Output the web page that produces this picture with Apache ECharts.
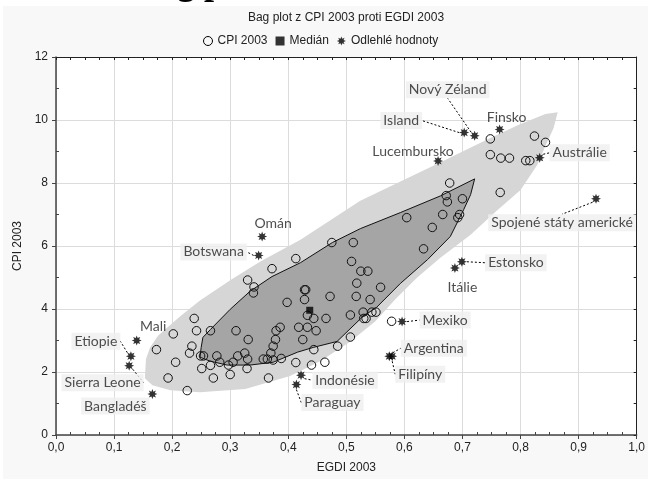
<!DOCTYPE html>
<html><head><meta charset="utf-8">
<script src="https://cdn.jsdelivr.net/npm/echarts@6/dist/echarts.min.js"></script>
<style>html,body{margin:0;padding:0;background:#fff}#c{width:648px;height:479px}</style>
</head><body><div id="c"></div>
<script>
// ---- data ----
const cpiPoints = [
 [0.173,2.71],[0.206,2.31],[0.202,3.21],[0.238,3.70],[0.242,3.31],[0.234,2.82],[0.230,2.60],
 [0.249,2.51],[0.254,2.51],[0.193,1.81],[0.226,1.41],[0.251,2.11],[0.266,2.21],[0.271,1.81],
 [0.277,2.51],[0.282,2.31],[0.266,3.31],[0.297,2.22],[0.305,2.31],[0.300,1.92],[0.313,2.51],
 [0.325,2.60],[0.330,2.41],[0.329,2.11],[0.310,3.31],[0.331,3.03],[0.366,1.81],[0.357,2.41],
 [0.364,2.41],[0.374,2.38],[0.388,2.43],[0.370,2.60],[0.374,2.82],[0.378,3.03],[0.379,3.31],
 [0.386,3.42],[0.413,2.30],[0.440,2.22],[0.463,2.31],[0.444,2.71],[0.485,2.82],[0.507,3.11],
 [0.425,3.03],[0.418,3.42],[0.433,3.42],[0.448,3.31],[0.433,3.80],[0.444,3.70],[0.465,3.70],
 [0.507,3.81],[0.529,3.90],[0.530,3.70],[0.534,3.70],[0.544,3.90],[0.551,3.90],[0.578,3.61],
 [0.398,4.21],[0.428,4.30],[0.428,4.61],[0.430,4.61],[0.472,4.40],[0.517,4.40],[0.541,4.30],
 [0.518,4.82],[0.559,4.69],[0.330,4.92],[0.341,4.70],[0.340,4.51],[0.372,5.28],[0.413,5.60],
 [0.509,5.51],[0.525,5.20],[0.537,5.20],[0.475,6.11],[0.512,6.11],[0.604,6.90],[0.633,5.91],
 [0.648,6.59],[0.666,7.00],[0.695,7.00],[0.692,6.90],[0.672,7.60],[0.674,7.40],[0.678,8.00],
 [0.700,7.50],[0.765,7.70],[0.748,9.40],[0.748,8.90],[0.766,8.79],[0.781,8.79],[0.809,8.71],
 [0.816,8.71],[0.824,9.49],[0.843,9.29]
];
const medianPoint = [0.437, 3.96];
const outlierNames = ['Omán','Botswana','Mali','Etiopie','Sierra Leone','Bangladéš','Indonésie','Paraguay',
 'Mexiko','Argentina','Filipíny','Estonsko','Itálie','Lucembursko','Island','Nový Zéland','Finsko',
 'Austrálie','Spojené státy americké'];
const outlierEgdi = [0.355,0.349,0.139,0.129,0.126,0.166,0.422,0.414,0.596,0.574,0.579,0.699,0.687,0.658,0.703,0.721,0.764,0.833,0.930];
const outlierCpi  = [6.3,5.7,3.0,2.5,2.2,1.3,1.9,1.6,3.6,2.5,2.5,5.5,5.3,8.7,9.6,9.5,9.7,8.8,7.5];
const fencePolygon = [
 [0.153,1.80],[0.155,2.41],[0.162,2.78],[0.176,3.16],[0.214,3.77],[0.248,4.27],[0.300,4.91],
 [0.352,5.51],[0.421,6.20],[0.524,7.44],[0.657,8.61],[0.748,9.43],[0.800,9.87],[0.843,10.19],
 [0.864,10.25],[0.857,9.75],[0.843,9.18],[0.829,8.58],[0.800,7.78],[0.757,7.09],[0.714,6.36],
 [0.662,5.63],[0.622,5.00],[0.584,4.30],[0.550,3.61],[0.507,2.97],[0.455,2.34],[0.403,1.87],
 [0.326,1.46],[0.248,1.36],[0.197,1.42],[0.166,1.58]
];
const bagPolygon = [
 [0.248,2.47],[0.250,2.78],[0.253,3.10],[0.266,3.35],[0.300,3.99],[0.334,4.56],[0.372,5.03],
 [0.421,5.47],[0.476,6.11],[0.524,6.55],[0.593,7.06],[0.662,7.59],[0.721,8.13],[0.714,7.63],
 [0.702,7.15],[0.679,6.30],[0.640,5.57],[0.593,4.81],[0.552,4.05],[0.529,3.77],[0.484,2.97],
 [0.443,2.78],[0.416,2.63],[0.374,2.31],[0.334,2.22],[0.295,2.22],[0.266,2.34]
];
const seriesNames = ['CPI 2003','Medián','Odlehlé hodnoty'];
const chartTitle = 'Bag plot z CPI 2003 proti EGDI 2003';
const xName = 'EGDI 2003', yName = 'CPI 2003';

// ---- label layout (pixel offsets of label centres from their marker) ----
const labelOffsets = [[11,-13],[-45,-3.5],[16.5,-13.7],[-35,-15],[-26.6,17],[-37,12],[44,5],[36,18],
 [43,-1.5],[44.5,-8],[28,18],[54,1],[7.5,19],[-25,-9.5],[-63,-12],[-27,-46],[7,-12],[40,-5],[-34,24]];
const labelBoxed = [false,true,false,true,true,true,true,true,true,true,true,true,false,false,true,true,false,true,true];
const labelLined = [false,true,false,true,true,false,true,true,true,true,true,true,false,false,true,true,false,true,true];

// asterisk-like star symbol
function starPath(){
  let s = '';
  for (let i = 0; i < 16; i++) {
    const a = i * Math.PI / 8 - Math.PI / 2;
    const r = i % 2 === 0 ? 10 : 5.2;
    const x = (10 + r * Math.cos(a)).toFixed(2), y = (10 + r * Math.sin(a)).toFixed(2);
    s += (i === 0 ? 'M' : 'L') + x + ' ' + y + ' ';
  }
  return 'path://' + s + 'Z';
}
const STAR = starPath();

const SANS = 'Liberation Sans';
const LABF = 'Lato';

function polyRender(poly, fill, stroke) {
  return function (params, api) {
    const pts = poly.map(p => api.coord(p));
    return { type: 'polygon', shape: { points: pts },
      style: { fill: fill, stroke: stroke || null, lineWidth: stroke ? 1 : 0 } };
  };
}

const fmtX = v => v.toFixed(1).replace('.', ',');
const commonX = { type: 'value', min: 0, max: 1, interval: 0.1 };
const commonY = { type: 'value', min: 0, max: 12, interval: 2 };

const outlierData = outlierNames.map((n, i) => ({
  name: n, value: [outlierEgdi[i], outlierCpi[i]],
  label: { backgroundColor: labelBoxed[i] ? '#efefef' : 'transparent' },
  labelLine: { show: labelLined[i] }
}));

const chart = echarts.init(document.getElementById('c'), null, { renderer: 'canvas' });
chart.setOption({
  animation: false,
  backgroundColor: '#ffffff',
  graphic: [
    { type: 'rect', z: -100, silent: true, shape: { x: 3, y: 6, width: 645, height: 473 }, style: { fill: '#f8f8f8' } },
    { type: 'text', x: 135, y: -15, z: 100, silent: true, style: { text: 'Bag plot', font: 'bold 36px "Liberation Serif"', fill: '#000', verticalAlign: 'middle', align: 'left' } },
    { type: 'text', x: 346, y: 18, silent: true, style: { text: chartTitle, font: '12px "Liberation Sans"', fill: '#222', align: 'center', verticalAlign: 'middle' } }
  ],
  legend: {
    left: 198, top: 30, itemWidth: 9, itemHeight: 9, itemGap: 8,
    textStyle: { fontFamily: SANS, fontSize: 12, color: '#222' },
    data: [
      { name: seriesNames[0], icon: 'circle', itemStyle: { color: 'transparent', borderColor: '#000', borderWidth: 1 } },
      { name: seriesNames[1], icon: 'rect', itemStyle: { color: '#000' } },
      { name: seriesNames[2], icon: STAR, itemStyle: { color: '#000' } }
    ]
  },
  grid: { left: 56, right: 11, top: 57, bottom: 43, show: true, backgroundColor: '#ffffff', borderWidth: 0 },
  xAxis: [
    Object.assign({}, commonX, {
      position: 'bottom', name: xName, nameLocation: 'middle', nameGap: 27,
      nameTextStyle: { fontFamily: SANS, fontSize: 12, color: '#222' },
      axisLine: { show: true, onZero: false, lineStyle: { color: '#444', width: 1.5 } },
      axisTick: { show: true, inside: false, length: 4, lineStyle: { color: '#444' } },
      axisLabel: { formatter: fmtX, color: '#222', fontFamily: SANS, fontSize: 12, margin: 7 },
      splitLine: { show: true, lineStyle: { color: '#dcdcdc', width: 1 } }
    }),
    Object.assign({}, commonX, {
      position: 'bottom', axisLine: { show: false, onZero: false }, axisTick: { show: false, inside: true },
      minorTick: { show: true, splitNumber: 4, length: 3, lineStyle: { color: '#444' } },
      axisLabel: { show: false }, splitLine: { show: false }
    }),
    Object.assign({}, commonX, {
      position: 'top', axisLine: { show: true, onZero: false, lineStyle: { color: '#222', width: 1 } },
      axisTick: { show: true, inside: true, length: 3, lineStyle: { color: '#222' } },
      minorTick: { show: true, splitNumber: 4, length: 3, lineStyle: { color: '#222' } },
      axisLabel: { show: false }, splitLine: { show: false }
    })
  ],
  yAxis: [
    Object.assign({}, commonY, {
      position: 'left', name: yName, nameLocation: 'middle', nameGap: 31,
      nameTextStyle: { fontFamily: SANS, fontSize: 12, color: '#222' },
      axisLine: { show: true, onZero: false, lineStyle: { color: '#444', width: 1.5 } },
      axisTick: { show: true, inside: false, length: 4, lineStyle: { color: '#444' } },
      axisLabel: { color: '#222', fontFamily: SANS, fontSize: 12, margin: 8 },
      splitLine: { show: true, lineStyle: { color: '#dcdcdc', width: 1 } }
    }),
    Object.assign({}, commonY, {
      position: 'left', axisLine: { show: false, onZero: false }, axisTick: { show: false, inside: true },
      minorTick: { show: true, splitNumber: 2, length: 3, lineStyle: { color: '#444' } },
      axisLabel: { show: false }, splitLine: { show: false }
    }),
    Object.assign({}, commonY, {
      position: 'right', axisLine: { show: true, onZero: false, lineStyle: { color: '#222', width: 1 } },
      axisTick: { show: true, inside: true, length: 3, lineStyle: { color: '#222' } },
      minorTick: { show: true, splitNumber: 2, length: 3, lineStyle: { color: '#222' } },
      axisLabel: { show: false }, splitLine: { show: false }
    })
  ],
  series: [
    { type: 'custom', name: 'fence', silent: true, z: 1, data: [[0.5, 6]],
      renderItem: polyRender(fencePolygon, '#d6d6d6', null) },
    { type: 'custom', name: 'bag', silent: true, z: 2, data: [[0.5, 6]],
      renderItem: polyRender(bagPolygon, '#a5a5a5', '#111') },
    { type: 'scatter', name: seriesNames[0], z: 3, symbol: 'circle', symbolSize: 8.5,
      itemStyle: { color: 'transparent', borderColor: '#111', borderWidth: 1, opacity: 1 },
      data: cpiPoints },
    { type: 'scatter', name: seriesNames[1], z: 4, symbol: 'rect', symbolSize: 7,
      itemStyle: { color: '#000' }, data: [medianPoint] },
    { type: 'scatter', name: seriesNames[2], z: 5, symbol: STAR, symbolSize: 10,
      itemStyle: { color: '#000' },
      label: { show: true, formatter: '{b}', fontFamily: LABF, fontSize: 14, color: '#222', padding: [2, 3, 1, 3] },
      labelLine: { show: false, lineStyle: { color: '#000', width: 1, type: [2, 2] } },
      labelLayout: function (p) {
        const o = labelOffsets[p.dataIndex];
        return { x: p.rect.x + p.rect.width / 2 + o[0], y: p.rect.y + p.rect.height / 2 + o[1], align: 'center', verticalAlign: 'middle' };
      },
      data: outlierData }
  ]
});
</script></body></html>
